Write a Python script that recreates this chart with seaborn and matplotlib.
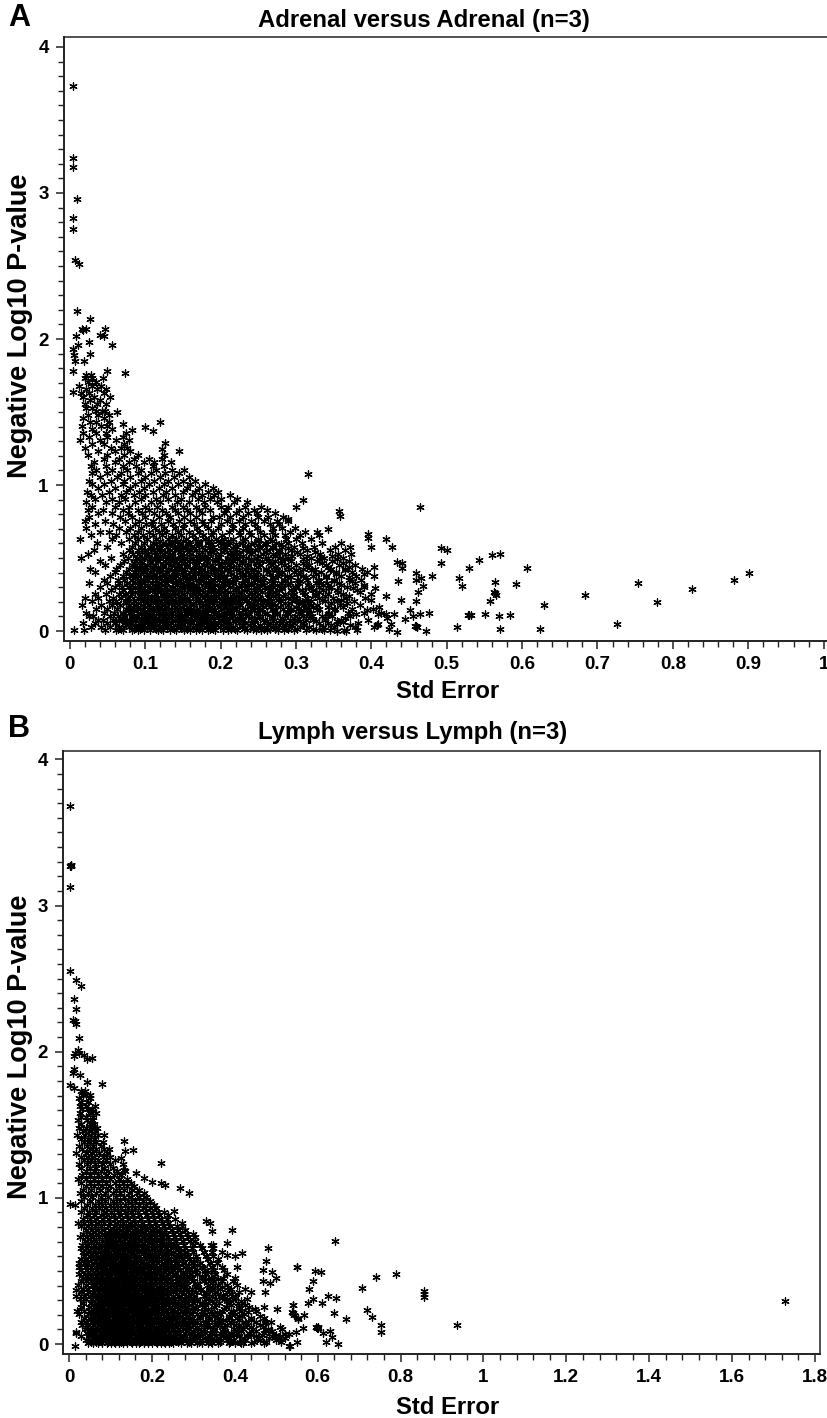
import matplotlib
matplotlib.use("Agg")
import matplotlib.pyplot as plt
from matplotlib.ticker import MultipleLocator, FixedLocator, FuncFormatter
import pandas as pd
import seaborn as sns

# ---- Panel A: isolated points (Std Error, -log10 P)
adrenal_top_se = [.005,.004,.004,.009,.005,.004,.007,.012,.0097,.027,.016,.022,.047,.008,.017,.04,.045,.011,.026,.056,.005,.006,.027,.007,.019,.004,.05,.073,.004,.12,.083,.1,.11,.126,.123,.145,.071,.063,.047]
adrenal_top_p = [3.735,3.24,3.175,2.96,2.83,2.75,2.54,2.515,2.19,2.14,2.07,2.07,2.07,2.02,2.06,2.03,2.02,1.96,1.98,1.96,1.93,1.89,1.9,1.85,1.85,1.78,1.78,1.77,1.64,1.43,1.38,1.395,1.37,1.29,1.245,1.23,1.42,1.5,1.51]
adrenal_tail_se = [.316,.31,.30,.357,.359,.465,.29,.342,.328,.396,.395,.42,.40,.427,.492,.501,.571,.56,.543,.492,.53,.607,.441,.434,.441,.403,.481,.459,.459,.466,.516,.435,.468,.52,.564,.592,.754,.901,.881,.825,.684,.779,.564,.565,.563,.558,.629,.462,.459,.44,.451,.465,.477,.455,.445,.53,.528,.532,.551,.569,.584,.726,.459,.461,.458,.46,.514,.473,.571,.624,.434,.424,.426,.42,.409,.409,.404,.381,.366,.354,.337,.362,.355]
adrenal_tail_p = [1.078,.90,.85,.82,.79,.847,.77,.70,.68,.664,.64,.628,.578,.578,.566,.555,.53,.518,.49,.463,.434,.434,.463,.47,.434,.44,.379,.395,.35,.36,.365,.345,.308,.306,.338,.32,.326,.40,.35,.285,.247,.2,.258,.25,.265,.208,.178,.267,.205,.212,.144,.119,.123,.105,.082,.11,.108,.112,.114,.105,.112,.048,.034,.03,.038,.026,.027,-.002,.016,.011,-.007,.011,.05,.12,.12,.05,.03,.007,-.002,-.002,.007,.064,.05]

# ---- Panel A: dense cloud, read band by band (p level, Std Error values)
adrenal_band_p = [.005,.028,.052,.078,.103,.127,.154,.179,.203,.228,.256,.281,.304,.331,.353,.379,.406,.428,.455,.478,.503,.531,.556,.579,.604,.632,.657,.681,.706,.73,.757,.779,.806,.832,.853,.881,.904,.93,.955,.98,1.006,1.03,1.057,1.08,1.105,1.133,1.158,1.18,1.208,1.231,1.257,1.283,1.306,1.33,1.354,1.381,1.406,1.432,1.457,1.48,1.506,1.53,1.556,1.58,1.605,1.63,1.656,1.68,1.705,1.732,1.755]
adrenal_band_se = [
[.006,.019,.047,.062,.071,.083,.09,.098,.107,.117,.124,.133,.141,.152,.159,.168,.176,.183,.193,.203,.21,.222,.235,.247,.254,.261,.276,.284,.298,.313,.327,.345,.364],
[.028,.041,.054,.066,.078,.087,.094,.103,.112,.12,.129,.137,.146,.155,.163,.174,.181,.19,.199,.208,.216,.228,.243,.25,.258,.269,.281,.291,.305,.318,.336,.351,.378],
[.018,.034,.05,.06,.073,.081,.092,.1,.109,.115,.126,.134,.143,.149,.16,.171,.178,.186,.196,.205,.213,.225,.233,.24,.265,.273,.287,.296,.31,.33,.342,.383],
[.037,.044,.057,.069,.076,.086,.096,.104,.113,.122,.131,.139,.147,.157,.165,.173,.183,.192,.201,.209,.219,.23,.246,.256,.279,.292,.302,.314,.323,.339,.36,.395],
[.025,.031,.053,.064,.072,.082,.089,.101,.108,.118,.127,.135,.144,.153,.162,.169,.179,.188,.197,.206,.217,.227,.237,.251,.268,.285,.299,.309,.321,.334,.348,.372],
[.022,.046,.059,.07,.08,.091,.099,.111,.119,.128,.136,.148,.156,.166,.175,.182,.194,.204,.212,.224,.236,.248,.262,.275,.288,.307,.319,.344,.369,.39,.413],
[.035,.049,.063,.075,.084,.093,.105,.114,.123,.132,.142,.151,.161,.172,.18,.189,.2,.211,.22,.232,.242,.255,.27,.283,.294,.303,.316,.331,.352,.375,.402],
[.016,.042,.056,.067,.079,.088,.097,.106,.116,.125,.138,.145,.154,.164,.177,.185,.195,.207,.215,.226,.239,.249,.26,.272,.29,.311,.328,.358,.385],
[.029,.052,.061,.074,.085,.095,.102,.11,.121,.13,.14,.15,.158,.167,.184,.191,.202,.214,.223,.234,.245,.257,.267,.28,.295,.306,.32,.338,.354,.377],
[.02,.038,.058,.068,.077,.09,.098,.108,.116,.126,.134,.147,.155,.17,.178,.187,.198,.21,.218,.229,.241,.253,.264,.278,.289,.3,.315,.33,.349,.366,.392],
[.033,.048,.065,.073,.083,.094,.103,.113,.124,.133,.143,.152,.163,.173,.182,.193,.204,.216,.227,.238,.25,.263,.274,.286,.297,.312,.325,.343,.362,.399],
[.055,.071,.081,.092,.1,.112,.12,.129,.139,.148,.159,.168,.176,.188,.197,.206,.22,.231,.244,.252,.266,.277,.293,.308,.322,.336,.355,.381],
[.04,.06,.069,.078,.087,.096,.107,.117,.127,.137,.146,.157,.165,.179,.19,.2,.212,.225,.235,.247,.259,.27,.282,.299,.317,.331,.347,.368,.39],
[.026,.05,.066,.076,.086,.099,.109,.119,.128,.14,.15,.16,.171,.181,.192,.203,.215,.228,.24,.254,.268,.28,.292,.304,.326,.341,.357,.378],
[.045,.064,.072,.083,.093,.104,.115,.125,.135,.144,.156,.167,.177,.186,.198,.209,.221,.233,.246,.258,.271,.285,.301,.315,.329,.35,.371,.386],
[.053,.07,.08,.09,.101,.111,.122,.132,.141,.153,.162,.174,.183,.195,.205,.218,.23,.243,.256,.276,.288,.31,.322,.34,.36,.38,.403],
[.034,.06,.075,.085,.097,.106,.118,.128,.138,.149,.159,.17,.18,.191,.201,.213,.226,.237,.25,.264,.282,.297,.305,.333,.353,.374,.394],
[.027,.062,.079,.088,.098,.11,.12,.13,.142,.151,.163,.175,.187,.196,.208,.22,.232,.244,.26,.273,.291,.309,.325,.346,.365,.388],
[.047,.067,.082,.093,.103,.113,.124,.134,.145,.155,.166,.178,.189,.2,.211,.224,.236,.252,.267,.284,.3,.318,.34,.357,.379],
[.04,.072,.086,.095,.106,.117,.127,.137,.147,.158,.169,.181,.193,.206,.217,.229,.241,.255,.272,.294,.313,.328,.348,.37],
[.015,.055,.077,.089,.099,.109,.12,.131,.14,.152,.164,.173,.184,.197,.21,.222,.234,.248,.263,.279,.289,.32,.337,.362],
[.024,.07,.084,.092,.104,.116,.125,.136,.148,.16,.172,.186,.199,.212,.225,.24,.257,.27,.286,.305,.332,.356,.373],
[.032,.078,.09,.1,.112,.122,.133,.143,.155,.168,.18,.192,.204,.218,.23,.246,.262,.278,.293,.315,.345,.365],
[.05,.082,.094,.107,.119,.129,.14,.15,.161,.176,.19,.207,.222,.236,.251,.268,.281,.298,.324,.352,.372],
[.036,.068,.087,.098,.11,.124,.135,.146,.157,.17,.183,.199,.213,.228,.244,.259,.274,.29,.308,.334,.36],
[.014,.056,.079,.091,.103,.115,.13,.141,.154,.166,.18,.194,.205,.217,.233,.25,.266,.287,.3,.32],
[.028,.061,.085,.097,.11,.122,.135,.148,.163,.177,.187,.202,.226,.241,.258,.272,.285,.306,.33],
[.04,.052,.075,.09,.105,.118,.128,.144,.158,.172,.19,.211,.224,.238,.253,.268,.292,.312],
[.022,.065,.08,.094,.113,.125,.139,.15,.169,.183,.197,.216,.23,.249,.27,.282,.299],
[.033,.058,.087,.101,.108,.121,.137,.152,.165,.178,.2,.215,.233,.246,.265,.278],
[.02,.047,.073,.092,.11,.13,.145,.16,.175,.188,.208,.224,.24,.258,.275,.29],
[.026,.067,.082,.1,.118,.133,.152,.168,.19,.198,.212,.23,.25,.263,.283],
[.037,.056,.077,.096,.112,.128,.143,.16,.176,.205,.22,.237,.248,.272],
[.024,.044,.07,.09,.105,.122,.14,.155,.172,.186,.207,.225,.244,.262],
[.03,.06,.078,.1,.116,.135,.15,.168,.18,.2,.21,.232,.254],
[.021,.048,.066,.086,.108,.12,.142,.158,.178,.195,.218,.235],
[.034,.056,.073,.095,.114,.13,.147,.17,.186,.2,.222],
[.028,.043,.068,.085,.1,.124,.14,.162,.175,.192,.212],
[.023,.052,.075,.092,.11,.128,.15,.166,.183,.196],
[.038,.06,.08,.098,.118,.136,.155,.172,.19],
[.03,.046,.07,.087,.105,.125,.144,.16,.18],
[.026,.055,.072,.094,.112,.13,.15,.166],
[.04,.063,.08,.1,.12,.138,.158],
[.03,.05,.068,.09,.108,.126,.145],
[.035,.056,.076,.095,.115,.135,.152],
[.028,.048,.07,.088,.11,.125],
[.032,.06,.078,.098,.112,.134],
[.045,.066,.085,.105,.122],
[.024,.05,.072,.09,.125],
[.038,.06,.08],
[.02,.055,.068,.076],
[.03,.045,.072],
[.014,.04,.062,.078],
[.026,.05,.07],
[.018,.035,.048,.075],
[.03,.056],
[.016,.042,.05],
[.027,.035,.052],
[.018,.046],
[.024,.038,.052],
[.035,.043],
[.022,.03],
[.02,.036,.048],
[.027,.04],
[.018,.032,.053],
[.015,.025,.045],
[.022,.036,.048],
[.012,.03,.042],
[.024,.035],
[.02,.03,.044],
[.022,.028],
]
# second reading of the darkest part of the cloud, between the levels above
adrenal_core_p = [.014,.041,.066,.091,.117,.141,.166,.192,.216,.243,.268,.293,.318,.342,.367,.393,.417,.442,.467,.491,.517,.543,.567,.593,.619]
adrenal_core_se = [
[.064,.068,.085,.093,.115,.121,.138,.151,.156,.171,.186,.19,.214,.219,.231,.243,.258,.266,.272,.29,.302,.322,.335],
[.074,.091,.105,.11,.127,.131,.148,.167,.172,.189,.194,.21,.23,.239,.252,.263,.277,.295,.311,.346,.372,.408],
[.066,.08,.097,.118,.122,.139,.153,.158,.177,.182,.2,.207,.221,.228,.244,.262,.27,.283,.306,.327,.355],
[.083,.088,.109,.114,.128,.145,.15,.17,.18,.187,.203,.215,.226,.241,.249,.268,.281,.297,.319,.338,.365,.421],
[.07,.094,.102,.124,.13,.143,.16,.165,.174,.191,.198,.211,.233,.238,.259,.275,.29,.304,.317,.343,.38,.43],
[.077,.085,.106,.116,.134,.14,.155,.169,.179,.192,.209,.218,.23,.245,.253,.269,.292,.31,.328,.35,.394],
[.09,.1,.11,.119,.127,.146,.158,.176,.186,.199,.205,.217,.239,.25,.265,.279,.3,.323,.342,.363,.41],
[.075,.084,.103,.122,.13,.14,.163,.171,.181,.2,.212,.224,.243,.256,.268,.285,.304,.318,.347,.368],
[.098,.108,.115,.137,.148,.153,.173,.182,.19,.208,.219,.235,.25,.261,.276,.302,.312,.335,.36,.4],
[.08,.093,.112,.125,.133,.145,.162,.179,.194,.203,.221,.228,.246,.27,.283,.296,.325,.339,.37,.42],
[.087,.1,.12,.128,.138,.155,.166,.184,.196,.213,.225,.24,.255,.272,.295,.31,.33,.356,.385],
[.095,.105,.117,.136,.149,.16,.172,.188,.202,.22,.234,.248,.264,.28,.3,.32,.344,.376,.405],
[.08,.092,.113,.125,.142,.152,.167,.185,.193,.21,.227,.24,.258,.275,.29,.316,.336,.36,.39],
[.09,.1,.122,.13,.146,.158,.174,.187,.206,.215,.232,.252,.267,.285,.305,.33,.35,.375],
[.086,.105,.116,.134,.15,.163,.178,.193,.204,.222,.238,.249,.27,.294,.314,.34,.37],
[.095,.112,.126,.14,.154,.17,.182,.199,.214,.23,.245,.265,.28,.303,.327,.353,.39],
[.09,.102,.118,.135,.148,.165,.176,.19,.208,.225,.24,.26,.275,.3,.32,.345,.365],
[.1,.11,.124,.142,.155,.172,.186,.202,.216,.235,.25,.272,.29,.315,.342,.37],
[.085,.106,.128,.138,.153,.168,.182,.198,.214,.228,.247,.265,.28,.31,.335,.362],
[.096,.114,.13,.145,.16,.178,.193,.21,.222,.24,.26,.285,.31,.33,.355],
[.105,.12,.135,.15,.168,.18,.196,.215,.23,.25,.272,.295,.315,.348],
[.1,.113,.127,.146,.158,.175,.19,.208,.22,.238,.26,.278,.302,.325],
[.108,.12,.138,.15,.165,.185,.2,.216,.235,.252,.27,.29,.31],
[.115,.13,.145,.16,.172,.188,.205,.22,.24,.26,.28],
[.12,.135,.15,.17,.185,.197,.21,.23,.25,.268],
]

# ---- Panel B: isolated points
lymph_top_se = [.002,.003,.004,.005,.006,.002,.002,.016,.03,.012,.018,.01,.014,.018,.025,.021,.014,.012,.025,.035,.044,.055,.012,.01,.027,.044,.079,.002,.012]
lymph_top_p = [3.68,3.27,3.28,3.27,3.28,3.13,2.55,2.49,2.45,2.36,2.29,2.22,2.21,2.19,2.095,2.015,1.99,1.97,1.99,1.98,1.95,1.96,1.88,1.856,1.84,1.79,1.78,1.77,1.75]
lymph_tail_se = [.133,.135,.154,.125,.222,.133,.162,.182,.2,.222,.232,.268,.29,.002,.253,.272,.33,.339,.346,.393,.382,.348,.418,.4,.38,.479,.475,.467,.49,.5,.467,.485,.473,.503,.55,.54,.54,.553,.533,.014,.017,.016,.024,.642,.551,.593,.608,.589,.578,.625,.645,.589,.576,.61,.541,.537,.543,.566,.553,.64,.668,.72,.73,.706,.741,.789,.856,.856,.856,.753,.753,.936,1.727,.596,.598,.6,.6,.613,.63,.635,.62,.65,.55,.53,.548,.53,.565,.515,.52,.505,.51,.49,.475]
lymph_tail_p = [1.39,1.32,1.33,1.27,1.24,1.19,1.167,1.133,1.11,1.105,1.09,1.065,1.035,.96,.91,.825,.84,.825,.77,.78,.69,.68,.62,.6,.61,.654,.57,.506,.495,.45,.433,.415,.353,.24,.524,.27,.21,.17,-.01,-.01,.08,.37,.53,.705,.524,.50,.495,.43,.374,.328,.317,.305,.278,.278,.27,.22,.197,.197,.175,.214,.169,.233,.187,.385,.456,.476,.365,.342,.324,.13,.08,.128,.296,.114,.11,.118,.11,.073,.09,.046,.016,0,.011,-.011,.084,.066,.11,.1,.07,.04,.12,.09,.15]

# ---- Panel B: dense cloud, read band by band (p level, Std Error values)
lymph_band_p = [.004,.027,.053,.077,.104,.128,.153,.178,.204,.229,.255,.28,.305,.33,.354,.378,.405,.429,.454,.479,.504,.53,.555,.58,.605,.631,.656,.68,.705,.731,.756,.78,.805,.831,.854,.88,.905,.929,.954,.98,1.005,1.03,1.056,1.081,1.104,1.132,1.157,1.181,1.207,1.232,1.256,1.282,1.305,1.331,1.355,1.38,1.405,1.431,1.456,1.481,1.505,1.53,1.555,1.58,1.606,1.63,1.655,1.68,1.706,1.73]
lymph_band_se = [
[.045,.058,.07,.08,.092,.101,.112,.12,.131,.14,.152,.161,.17,.181,.19,.2,.212,.221,.232,.241,.252,.27,.285,.295,.31,.32,.336,.345,.36,.385,.4,.415,.42,.44,.47],
[.04,.052,.063,.075,.086,.096,.106,.117,.126,.136,.146,.156,.166,.176,.186,.196,.206,.216,.226,.237,.248,.26,.276,.29,.303,.315,.33,.35,.367,.38,.395,.425,.46,.5],
[.03,.048,.06,.072,.082,.09,.1,.11,.122,.13,.142,.15,.16,.172,.183,.193,.203,.213,.223,.234,.244,.257,.268,.282,.3,.322,.34,.355,.372,.392,.41,.43,.45,.49,.51],
[.017,.043,.055,.066,.078,.088,.098,.108,.118,.128,.138,.148,.158,.168,.178,.188,.198,.21,.219,.23,.242,.254,.265,.28,.294,.312,.328,.346,.364,.39,.405,.435,.47],
[.038,.05,.062,.074,.084,.094,.103,.114,.124,.134,.144,.154,.164,.174,.184,.195,.205,.215,.225,.235,.25,.262,.274,.29,.305,.325,.35,.375,.398,.42,.445,.48],
[.032,.047,.058,.069,.081,.091,.102,.112,.121,.132,.143,.153,.163,.173,.185,.192,.202,.218,.228,.24,.255,.268,.283,.3,.318,.335,.358,.38,.41,.43,.46],
[.028,.041,.056,.068,.077,.087,.097,.107,.116,.127,.137,.147,.157,.167,.177,.187,.199,.209,.22,.233,.245,.258,.272,.288,.308,.33,.352,.37,.39,.425,.452,.488],
[.035,.05,.061,.073,.085,.095,.105,.115,.125,.135,.145,.155,.165,.175,.183,.194,.204,.214,.227,.238,.25,.266,.28,.296,.315,.338,.36,.385,.405,.44,.47],
[.024,.045,.057,.067,.079,.089,.099,.11,.12,.13,.141,.151,.162,.171,.182,.191,.201,.212,.222,.236,.248,.261,.275,.292,.31,.328,.345,.365,.4,.422],
[.02,.037,.052,.064,.076,.086,.096,.106,.117,.128,.139,.149,.159,.17,.18,.19,.2,.211,.224,.235,.246,.26,.278,.298,.32,.342,.368,.39,.415,.45],
[.03,.048,.06,.071,.083,.093,.104,.113,.123,.133,.144,.154,.164,.174,.186,.197,.207,.217,.23,.243,.256,.27,.286,.305,.326,.35,.378,.41,.435,.47],
[.033,.052,.063,.075,.087,.098,.108,.119,.129,.14,.15,.16,.169,.179,.189,.2,.21,.222,.234,.248,.262,.28,.3,.32,.336,.362,.385,.408],
[.026,.041,.056,.068,.08,.09,.1,.11,.122,.131,.142,.152,.162,.172,.184,.194,.205,.216,.228,.24,.255,.27,.29,.31,.33,.355,.38,.395,.43],
[.016,.036,.05,.062,.073,.084,.095,.105,.115,.126,.136,.146,.156,.166,.176,.187,.198,.21,.222,.236,.25,.265,.283,.302,.325,.345,.372,.4],
[.03,.045,.058,.07,.082,.092,.102,.112,.123,.134,.145,.155,.165,.177,.189,.201,.213,.225,.238,.252,.27,.288,.306,.33,.352,.38,.41,.44],
[.034,.047,.06,.072,.085,.097,.107,.118,.128,.138,.148,.158,.17,.181,.193,.205,.218,.23,.245,.26,.278,.297,.318,.34,.365,.39,.425],
[.022,.042,.055,.066,.078,.09,.101,.111,.121,.132,.143,.153,.163,.175,.186,.198,.21,.223,.236,.25,.268,.285,.31,.335,.36,.38,.405],
[.028,.04,.052,.064,.076,.088,.098,.108,.118,.13,.14,.15,.16,.172,.184,.196,.208,.22,.233,.247,.263,.282,.3,.325,.348,.37,.395],
[.033,.046,.058,.07,.083,.094,.104,.115,.125,.136,.147,.157,.168,.18,.192,.204,.216,.23,.244,.26,.278,.296,.32,.342,.372,.4],
[.025,.038,.05,.063,.075,.086,.097,.108,.119,.13,.141,.152,.163,.175,.187,.199,.212,.226,.24,.256,.274,.292,.31,.33,.352,.382],
[.03,.043,.056,.068,.08,.092,.102,.113,.124,.135,.146,.158,.17,.182,.194,.207,.22,.235,.25,.268,.29,.308,.328,.35,.375],
[.026,.04,.052,.065,.077,.088,.1,.11,.122,.133,.144,.155,.167,.178,.19,.203,.216,.23,.245,.262,.28,.302,.32,.345,.37,.405],
[.024,.035,.047,.06,.072,.084,.096,.106,.117,.128,.14,.15,.162,.174,.186,.2,.213,.228,.243,.26,.276,.298,.315,.34,.358],
[.03,.042,.055,.067,.079,.09,.103,.114,.125,.136,.148,.16,.172,.185,.198,.21,.225,.24,.256,.272,.29,.31,.335,.36],
[.037,.05,.063,.075,.087,.099,.11,.122,.134,.146,.158,.17,.183,.196,.21,.224,.238,.254,.27,.288,.306,.33,.348],
[.033,.045,.058,.071,.084,.096,.108,.12,.131,.143,.155,.168,.181,.194,.208,.222,.236,.25,.268,.284,.3,.325,.345,.37],
[.028,.04,.053,.066,.078,.09,.102,.115,.127,.14,.152,.165,.178,.19,.205,.22,.234,.25,.264,.28,.296,.32,.348],
[.031,.046,.06,.073,.086,.098,.11,.123,.136,.148,.16,.174,.188,.202,.216,.23,.246,.26,.278,.298,.315,.342],
[.038,.052,.066,.08,.093,.105,.118,.131,.144,.157,.17,.184,.198,.212,.226,.242,.258,.274,.292,.305],
[.027,.044,.058,.072,.086,.1,.113,.126,.14,.153,.167,.18,.195,.21,.224,.24,.255,.27,.288,.303],
[.034,.05,.065,.079,.093,.107,.12,.134,.148,.162,.176,.19,.204,.22,.234,.25,.268,.284,.3],
[.04,.056,.07,.085,.1,.114,.128,.143,.157,.172,.186,.2,.216,.232,.248,.262,.28],
[.03,.046,.062,.078,.093,.108,.122,.137,.152,.166,.18,.196,.212,.228,.244,.26,.272],
[.022,.037,.053,.07,.085,.1,.116,.13,.146,.16,.176,.192,.208,.224,.24],
[.034,.05,.066,.082,.097,.112,.127,.142,.158,.174,.19,.206,.222,.236,.255],
[.044,.06,.076,.092,.108,.124,.14,.155,.17,.187,.203,.218,.24],
[.03,.048,.066,.084,.102,.118,.134,.15,.167,.184,.2,.214,.228],
[.036,.055,.073,.09,.108,.125,.142,.16,.178,.196,.21],
[.015,.044,.062,.08,.098,.116,.134,.152,.17,.186,.204],
[.03,.05,.07,.088,.106,.124,.142,.16,.178,.195],
[.036,.056,.076,.095,.113,.132,.15,.168,.186],
[.026,.046,.066,.086,.105,.124,.144,.163,.18],
[.034,.054,.074,.093,.113,.133,.152,.17],
[.04,.06,.08,.1,.12,.14,.158],
[.03,.05,.07,.09,.11,.13,.15],
[.022,.04,.06,.08,.1,.12,.141],
[.032,.05,.07,.09,.108,.126],
[.04,.06,.076,.095,.115,.134],
[.03,.05,.066,.085,.105],
[.024,.043,.062,.08,.098,.13],
[.036,.054,.07,.09,.11],
[.03,.046,.06,.082,.1],
[.018,.04,.056,.072,.092],
[.032,.05,.064,.085,.097],
[.024,.044,.058,.078],
[.036,.05,.066,.083],
[.03,.045,.06],
[.02,.038,.054,.07,.085],
[.033,.048,.062],
[.025,.04,.056,.068],
[.03,.05,.06],
[.022,.044,.055],
[.03,.04,.058],
[.026,.05,.065],
[.032,.045,.055],
[.027,.04,.063],
[.03,.045],
[.025,.05],
[.034,.042,.05],
[.028,.038],
]
# second reading of the darkest part of the cloud, plus the thin right-hand fringe
lymph_core_p = [.015,.04,.065,.091,.116,.141,.166,.191,.217,.242,.267,.292,.317,.342,.367,.392,.417,.442,.467,.492,.517,.543,.567,.593,.618,.643,.668,.693,.718,.743,.768,.793]
lymph_core_se = [
[.053,.066,.095,.109,.125,.149,.171,.18,.209,.228,.247,.263,.29,.314,.342,.365,.388,.412,.447,.475,.512],
[.06,.083,.104,.116,.138,.153,.178,.192,.21,.224,.246,.272,.298,.327,.357,.386,.423,.456,.483,.52],
[.067,.087,.107,.127,.144,.165,.187,.208,.227,.25,.275,.309,.337,.378,.402,.438,.465,.5],
[.056,.079,.1,.123,.133,.157,.174,.197,.216,.239,.26,.288,.318,.348,.377,.416,.452,.48],
[.068,.089,.109,.129,.15,.17,.19,.21,.232,.255,.285,.31,.34,.37,.407,.44,.468],
[.075,.096,.118,.136,.158,.178,.199,.222,.244,.27,.296,.328,.36,.395,.428,.474],
[.062,.083,.103,.122,.142,.161,.183,.205,.226,.25,.276,.302,.338,.372,.41,.44],
[.07,.09,.11,.13,.15,.17,.19,.212,.235,.26,.29,.316,.35,.386,.418,.46],
[.064,.084,.106,.125,.144,.166,.187,.208,.23,.253,.284,.325,.358,.395,.432],
[.073,.092,.114,.134,.155,.176,.195,.218,.24,.267,.305,.335,.375,.41,.448],
[.068,.086,.108,.128,.148,.169,.19,.21,.234,.26,.29,.32,.355,.392,.425],
[.078,.097,.116,.137,.16,.182,.202,.225,.25,.28,.31,.345,.38,.415],
[.07,.09,.111,.131,.152,.172,.195,.217,.242,.272,.3,.338,.37,.4],
[.063,.083,.104,.125,.146,.168,.188,.21,.235,.26,.295,.33,.36,.39],
[.074,.095,.117,.138,.16,.18,.203,.226,.252,.282,.315,.35,.385],
[.067,.086,.108,.13,.15,.172,.195,.218,.244,.27,.305,.34,.37],
[.072,.093,.114,.135,.156,.178,.2,.225,.25,.28,.31,.345],
[.066,.088,.11,.129,.15,.17,.193,.216,.24,.265,.295,.33,.36],
[.078,.1,.12,.14,.162,.184,.206,.23,.255,.285,.32,.35],
[.07,.092,.113,.133,.155,.176,.198,.222,.248,.275,.305,.335],
[.082,.104,.124,.145,.166,.188,.21,.235,.26,.29,.325],
[.076,.097,.118,.138,.16,.18,.204,.228,.254,.282,.31],
[.088,.109,.13,.15,.172,.193,.216,.24,.265,.295],
[.08,.1,.122,.143,.165,.186,.21,.234,.258,.285],
[.092,.114,.135,.156,.178,.2,.222,.246,.27],
[.086,.107,.128,.15,.17,.193,.216,.24,.262],
[.096,.118,.14,.162,.184,.206,.23,.252],
[.09,.112,.134,.155,.177,.2,.222,.245],
[.102,.124,.146,.168,.19,.212,.235],
[.096,.118,.14,.16,.183,.205,.228],
[.108,.13,.152,.174,.196,.218],
[.115,.137,.16,.18,.202],
]

panels = {
    "A": dict(title="Adrenal versus Adrenal (n=3)", tx=424, ty=20, box=(64, 37, 827, 641),
              xlim=(-.0076, 1.0044), ylim=(-.068, 4.068),
              major=[0,.1,.2,.3,.4,.5,.6,.7,.8,.9,1], minor=.02, lx=448, ly=691, ylc=326, letter_y=18),
    "B": dict(title="Lymph versus Lymph (n=3)", tx=413, ty=732, box=(63.5, 751, 820, 1354),
              xlim=(-.0133, 1.812), ylim=(-.068, 4.057),
              major=[0,.2,.4,.6,.8,1,1.2,1.4,1.6,1.8], minor=.04, lx=448, ly=1408, ylc=1047, letter_y=729),
}

def frame(top_se, top_p, tail_se, tail_p, *bands):
    se = list(top_se) + list(tail_se)
    p = list(top_p) + list(tail_p)
    for band_p, band_se in bands:
        for y, xs in zip(band_p, band_se):
            se += xs
            p += [y] * len(xs)
    return pd.DataFrame({"se": se, "p": p})

data = {
    "A": frame(adrenal_top_se, adrenal_top_p, adrenal_tail_se, adrenal_tail_p,
               (adrenal_band_p, adrenal_band_se), (adrenal_core_p, adrenal_core_se)),
    "B": frame(lymph_top_se, lymph_top_p, lymph_tail_se, lymph_tail_p,
               (lymph_band_p, lymph_band_se), (lymph_core_p, lymph_core_se)),
}

sns.set_theme(style="ticks")
plt.rcParams["font.family"] = ["Liberation Sans", "DejaVu Sans"]
plt.rcParams["font.weight"] = "bold"

W, H = 827, 1418
fig = plt.figure(figsize=(W / 100, H / 100), dpi=100, facecolor="white")

def fmt(v, _):
    return f"{v:.1f}".rstrip("0").rstrip(".") if abs(v) > 1e-9 else "0"

for key, cfg in panels.items():
    l, t, r, b = cfg["box"]
    ax = fig.add_axes([l / W, 1 - b / H, (r - l) / W, (b - t) / H])
    sns.scatterplot(data=data[key], x="se", y="p", marker=(6, 2, 0), s=28, color="black",
                    linewidth=0.9, ax=ax, legend=False, clip_on=False)
    ax.set_xlim(*cfg["xlim"])
    ax.set_ylim(*cfg["ylim"])
    ax.xaxis.set_major_locator(FixedLocator(cfg["major"]))
    ax.xaxis.set_minor_locator(MultipleLocator(cfg["minor"]))
    ax.yaxis.set_major_locator(FixedLocator([0, 1, 2, 3, 4]))
    ax.yaxis.set_minor_locator(MultipleLocator(.1))
    ax.xaxis.set_major_formatter(FuncFormatter(fmt))
    ax.yaxis.set_major_formatter(FuncFormatter(fmt))
    ax.tick_params(which="major", direction="out", length=6, width=1.1, labelsize=13.5, pad=5,
                   color="#222222", labelcolor="black")
    ax.tick_params(which="minor", direction="out", length=4, width=1, color="#222222")
    for lab in ax.get_xticklabels() + ax.get_yticklabels():
        lab.set_fontweight("bold")
    ax.set_xlabel("")
    ax.set_ylabel("")
    for side, sp in ax.spines.items():
        sp.set_linewidth(1.1)
        sp.set_color("#222222")
    if key == "A":
        ax.spines["right"].set_visible(False)
    for spine in ("left", "bottom"):
        ax.spines[spine].set_linewidth(1.4)
    fig.text(cfg["tx"] / W, 1 - cfg["ty"] / H, cfg["title"], ha="center", va="center",
             fontsize=17.2, fontweight="bold", color="black")
    fig.text(cfg["lx"] / W, 1 - cfg["ly"] / H, "Std Error", ha="center", va="center",
             fontsize=17.2, fontweight="bold", color="black")
    fig.text(20 / W, 1 - cfg["ylc"] / H, "Negative Log10 P-value", rotation=90, ha="center", va="center",
             fontsize=19.5, fontweight="bold", color="black")
    fig.text(19 / W, 1 - cfg["letter_y"] / H, key, ha="center", va="center",
             fontsize=22, fontweight="bold", color="black")

fig.savefig("out.png", dpi=100, facecolor="white")
